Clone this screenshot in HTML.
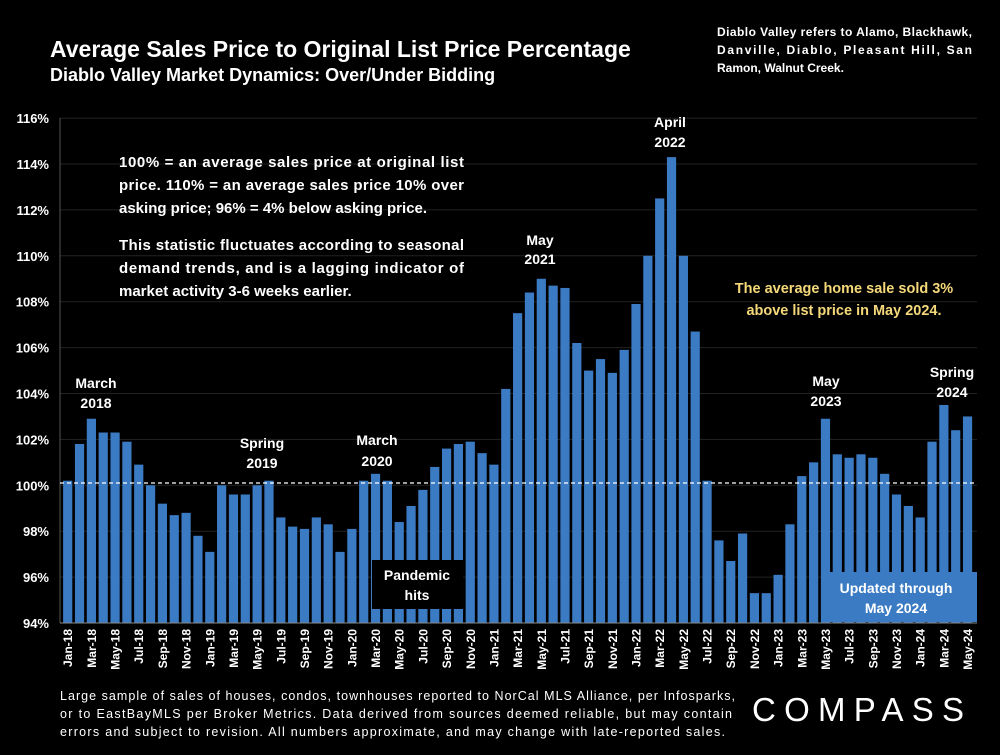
<!DOCTYPE html>
<html><head><meta charset="utf-8">
<style>
body{margin:0;background:#000;width:1000px;height:750px;overflow:hidden;font-family:"Liberation Sans",Arial,sans-serif;color:#fff}
svg text{font-family:"Liberation Sans",Arial,sans-serif;font-weight:bold;fill:#fff}
</style></head><body>
<svg width="1000" height="750">
<g id="grid"></g>
<g id="yaxis"></g>
<g id="bars"></g>
<g id="xaxis"></g>
<line x1="60" y1="483" x2="977" y2="483" stroke="#fff" stroke-width="1.3" stroke-dasharray="4,3"/>
<text x="50" y="57" font-size="23">Average Sales Price to Original List Price Percentage</text>
<text x="50" y="81" font-size="18">Diablo Valley Market Dynamics: Over/Under Bidding</text>
<g font-size="12">
<text x="717" y="36" textLength="255">Diablo Valley refers to Alamo, Blackhawk,</text>
<text x="717" y="54" textLength="255">Danville, Diablo, Pleasant Hill, San</text>
<text x="717" y="72">Ramon, Walnut Creek.</text></g>
<g font-size="15">
<text x="119" y="167" textLength="345">100% = an average sales price at original list</text>
<text x="119" y="190" textLength="345">price. 110% = an average sales price 10% over</text>
<text x="119" y="213">asking price; 96% = 4% below asking price.</text>
<text x="119" y="250" textLength="345">This statistic fluctuates according to seasonal</text>
<text x="119" y="273" textLength="345">demand trends, and is a lagging indicator of</text>
<text x="119" y="296">market activity 3-6 weeks earlier.</text></g>
<g font-size="14" text-anchor="middle">
<text x="96" y="388">March</text><text x="96" y="408">2018</text>
<text x="262" y="448">Spring</text><text x="262" y="468">2019</text>
<text x="377" y="445">March</text><text x="377" y="466">2020</text>
<text x="540" y="245">May</text><text x="540" y="264">2021</text>
<text x="670" y="127">April</text><text x="670" y="147">2022</text>
<text x="826" y="386">May</text><text x="826" y="406">2023</text>
<text x="952" y="377">Spring</text><text x="952" y="397">2024</text>
</g>
<g font-size="14.5" text-anchor="middle">
<text x="844" y="293" style="fill:#f5d87a">The average home sale sold 3%</text>
<text x="844" y="315" style="fill:#f5d87a">above list price in May 2024.</text></g>
<rect x="372" y="560" width="91" height="49" fill="#000"/>
<text x="417" y="580" font-size="14" text-anchor="middle">Pandemic</text>
<text x="417" y="600" font-size="14" text-anchor="middle">hits</text>
<rect x="821" y="572" width="156" height="50" fill="#3b7bc4"/>
<text x="896" y="593" font-size="14" text-anchor="middle">Updated through</text>
<text x="896" y="613" font-size="14" text-anchor="middle">May 2024</text>
<g font-size="12.5">
<text x="60" y="700" textLength="675" style="font-weight:normal">Large sample of sales of houses, condos, townhouses reported to NorCal MLS Alliance, per Infosparks,</text>
<text x="60" y="718" textLength="672" style="font-weight:normal">or to EastBayMLS per Broker Metrics. Data derived from sources deemed reliable, but may contain</text>
<text x="60" y="736" textLength="665" style="font-weight:normal">errors and subject to revision. All numbers approximate, and may change with late-reported sales.</text></g>
<text x="752" y="721" font-size="33" textLength="212" style="font-weight:normal">COMPASS</text>
</svg>
<script>
const months=["Jan","Feb","Mar","Apr","May","Jun","Jul","Aug","Sep","Oct","Nov","Dec"];
const categories=[];
for(let y=18;y<=24;y++)for(let m=0;m<12;m++){if(y===24&&m>4)break;categories.push(months[m]+"-"+y);}
const values=[100.2,101.8,102.9,102.3,102.3,101.9,100.9,100.0,99.2,98.7,98.8,97.8,
97.1,100.0,99.6,99.6,100.0,100.2,98.6,98.2,98.1,98.6,98.3,97.1,
98.1,100.2,100.5,100.2,98.4,99.1,99.8,100.8,101.6,101.8,101.9,101.4,
100.9,104.2,107.5,108.4,109.0,108.7,108.6,106.2,105.0,105.5,104.9,105.9,
107.9,110.0,112.5,114.3,110.0,106.7,100.2,97.6,96.7,97.9,95.3,95.3,
96.1,98.3,100.4,101.0,102.9,101.35,101.2,101.35,101.2,100.5,99.6,99.1,
98.6,101.9,103.5,102.4,103.0];
const yTicks=[94,96,98,100,102,104,106,108,110,112,114,116];
const NS="http://www.w3.org/2000/svg";
const y=v=>623-(v-94)*22.95;
const x=i=>67.7+i*11.84;
function mk(t,a,p){const e=document.createElementNS(NS,t);for(const k in a)e.setAttribute(k,a[k]);p.appendChild(e);return e;}
const grid=document.getElementById('grid'),ya=document.getElementById('yaxis'),bars=document.getElementById('bars'),xa=document.getElementById('xaxis');
yTicks.forEach(v=>{
 if(v>94){const l=mk('line',{x1:60,x2:977,y1:y(v),y2:y(v),stroke:'#222','stroke-width':1},grid);
 
 }
 const t=mk('text',{x:49,y:y(v)+5,'text-anchor':'end','font-size':13},ya);t.textContent=v+'%';
 
 
});
mk('line',{x1:60,x2:60,y1:118,y2:623,stroke:'#555'},ya);
mk('line',{x1:60,x2:977,y1:623,y2:623,stroke:'#888'},xa);
values.forEach((v,i)=>{
 const r=mk('rect',{x:x(i)-4.6,y:y(v),width:9.2,height:623-y(v),fill:'#3b7bc4'},bars);
 
 
});
categories.forEach((c,i)=>{
 if(i%2)return;
 const t=mk('text',{x:0,y:0,'text-anchor':'end','font-size':12,transform:`translate(${x(i)+4.5},629) rotate(-90)`},xa);
 t.textContent=c;
 
 
});
</script>
</body></html>
